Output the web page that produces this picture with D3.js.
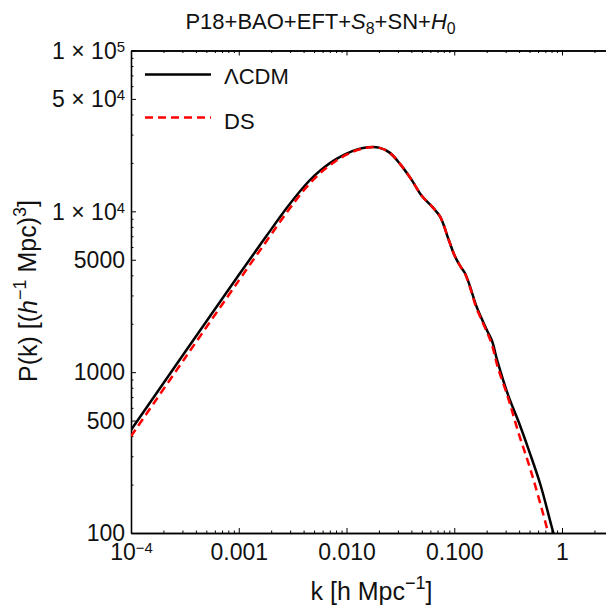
<!DOCTYPE html>
<html>
<head>
<meta charset="utf-8">
<script src="https://cdn.jsdelivr.net/npm/d3@7"></script>
<style>
  body { margin: 0; background: #fff; }
  svg text { font-family: "Liberation Sans", Arial, sans-serif; fill: #111; }
</style>
</head>
<body>
<div id="chart"></div>
<script>
// wavenumber grid, log10 k [h/Mpc]
const logK = [-4.0, -3.5, -3.0, -2.75, -2.55, -2.4, -2.3, -2.2, -2.1, -2.0, -1.9, -1.8, -1.7, -1.6, -1.5,
  -1.4, -1.3, -1.2, -1.13, -1.05, -1.0, -0.95, -0.9, -0.85, -0.8, -0.75, -0.7, -0.65, -0.6, -0.5, -0.4,
  -0.3, -0.2, -0.1, 0.0];
// log10 P(k)
const logP_LCDM = [2.640, 3.124, 3.604, 3.840, 4.025, 4.150, 4.220, 4.277, 4.323, 4.359, 4.385, 4.398,
  4.396, 4.365, 4.292, 4.200, 4.095, 4.025, 3.965, 3.82, 3.73, 3.665, 3.615, 3.525, 3.42, 3.34, 3.265,
  3.195, 3.07, 2.857, 2.687, 2.50, 2.30, 2.05, 1.80];
const logP_DS = [2.602, 3.087, 3.569, 3.808, 3.997, 4.128, 4.202, 4.263, 4.313, 4.352, 4.381, 4.397,
  4.396, 4.365, 4.292, 4.200, 4.095, 4.025, 3.965, 3.82, 3.73, 3.665, 3.612, 3.52, 3.41, 3.33, 3.255,
  3.17, 3.04, 2.84, 2.615, 2.41, 2.18, 1.93, 1.68];

const xMajor = [1e-4, 1e-3, 1e-2, 1e-1, 1];
const xLabels = ['10^−4', '0.001', '0.010', '0.100', '1'];
const yMajor = [100, 500, 1000, 5000, 1e4, 5e4, 1e5];
const yLabels = ['100', '500', '1000', '5000', '1 × 10^4', '5 × 10^4', '1 × 10^5'];

const series = [
  { name: 'ΛCDM', values: logP_LCDM, color: '#000', dash: null },
  { name: 'DS', values: logP_DS, color: '#ff0000', dash: '8,5' },
];

const width = 606, height = 608;
const margin = { left: 131, top: 50.5, bottom: 75 };
const perDecade = 107.75;
const kMax = 3;

const x = d3.scaleLog()
  .domain([1e-4, kMax])
  .range([margin.left, margin.left + perDecade * (4 + Math.log10(kMax))]);
const y = d3.scaleLog()
  .domain([100, 1e5])
  .range([height - margin.bottom, margin.top]);

const svg = d3.select('#chart').append('svg')
  .attr('width', width).attr('height', height);

svg.append('defs').append('clipPath').attr('id', 'plot')
  .append('rect')
  .attr('x', margin.left).attr('y', margin.top)
  .attr('width', width - margin.left).attr('height', y(100) - margin.top);

// minor ticks
const xMinor = [];
for (let d = -4; d <= 0; d++) {
  for (let m = 2; m <= 9; m++) {
    const v = m * Math.pow(10, d);
    if (v <= kMax) xMinor.push(v);
  }
}
const yMinor = [];
for (let d = 2; d <= 4; d++) {
  for (let m = 2; m <= 9; m++) {
    if (m !== 5) yMinor.push(m * Math.pow(10, d));
  }
}

function styleAxis(g) {
  g.selectAll('path.domain').attr('stroke', '#000').attr('stroke-width', 1.3);
  g.selectAll('.tick line').attr('stroke', '#000').attr('stroke-width', 1);
}

function supText(sel, label) {
  sel.text(null);
  const parts = label.split('^');
  sel.append('tspan').text(parts[0]);
  if (parts[1]) {
    sel.append('tspan').attr('dy', '-0.47em').attr('font-size', '0.65em').text(parts[1]);
  }
}

// bottom axis
svg.append('g')
  .attr('transform', `translate(0, ${y(100)})`)
  .call(d3.axisBottom(x).tickValues(xMinor).tickSizeInner(-2.5).tickSizeOuter(0).tickFormat(''))
  .call(styleAxis);
const xb = svg.append('g')
  .attr('transform', `translate(0, ${y(100)})`)
  .call(d3.axisBottom(x).tickValues(xMajor).tickSizeInner(-5).tickSizeOuter(0)
    .tickPadding(11).tickFormat((d, i) => xLabels[i]))
  .call(styleAxis);
xb.selectAll('.tick text')
  .attr('font-size', 23).attr('fill', '#111')
  .each(function (d, i) { supText(d3.select(this), xLabels[i]); });

// top axis
svg.append('g')
  .attr('transform', `translate(0, ${margin.top})`)
  .call(d3.axisTop(x).tickValues(xMinor).tickSizeInner(-2.5).tickSizeOuter(0).tickFormat(''))
  .call(styleAxis);
svg.append('g')
  .attr('transform', `translate(0, ${margin.top})`)
  .call(d3.axisTop(x).tickValues(xMajor).tickSizeInner(-5).tickSizeOuter(0).tickFormat(''))
  .call(styleAxis);

// left axis
svg.append('g')
  .attr('transform', `translate(${margin.left}, 0)`)
  .call(d3.axisLeft(y).tickValues(yMinor).tickSizeInner(-2.5).tickSizeOuter(0).tickFormat(''))
  .call(styleAxis);
const yl = svg.append('g')
  .attr('transform', `translate(${margin.left}, 0)`)
  .call(d3.axisLeft(y).tickValues(yMajor).tickSizeInner(-5).tickSizeOuter(0)
    .tickPadding(6).tickFormat((d, i) => yLabels[i]))
  .call(styleAxis);
yl.selectAll('.tick text')
  .attr('font-size', 23).attr('fill', '#111').attr('dy', '0.34em')
  .each(function (d, i) { supText(d3.select(this), yLabels[i]); });

// curves
const line = d3.line()
  .curve(d3.curveCatmullRom.alpha(0.5))
  .x((d, i) => x(Math.pow(10, logK[i])))
  .y(d => y(Math.pow(10, d)));

svg.append('g').attr('clip-path', 'url(#plot)')
  .selectAll('path')
  .data(series)
  .join('path')
  .attr('fill', 'none')
  .attr('stroke', d => d.color)
  .attr('stroke-width', 2.5)
  .attr('stroke-dasharray', d => d.dash)
  .attr('d', d => line(d.values));

// legend
const legend = svg.append('g');
series.forEach((s, i) => {
  const ly = [74.5, 117.5][i];
  legend.append('line')
    .attr('x1', 145).attr('x2', 211).attr('y1', ly).attr('y2', ly)
    .attr('stroke', s.color).attr('stroke-width', 2.5)
    .attr('stroke-dasharray', s.dash);
  legend.append('text')
    .attr('x', 224).attr('y', [84, 129][i])
    .attr('font-size', 22)
    .text(s.name);
});

// title
const title = svg.append('text')
  .attr('x', 320.5).attr('y', 29)
  .attr('text-anchor', 'middle')
  .attr('font-size', 22);
title.append('tspan').text('P18+BAO+EFT+');
title.append('tspan').attr('font-style', 'italic').text('S');
title.append('tspan').attr('font-size', '0.72em').attr('dy', '0.3em').text('8');
title.append('tspan').attr('dy', '-0.22em').text('+SN+');
title.append('tspan').attr('font-style', 'italic').text('H');
title.append('tspan').attr('font-size', '0.72em').attr('dy', '0.3em').text('0');

// axis titles
const xt = svg.append('text')
  .attr('x', 371.5).attr('y', 600)
  .attr('text-anchor', 'middle')
  .attr('font-size', 25);
xt.append('tspan').text('k [h Mpc');
xt.append('tspan').attr('font-size', '0.72em').attr('dy', '-0.6em').text('−1');
xt.append('tspan').attr('dy', '0.43em').text(']');

const yt = svg.append('text')
  .attr('transform', 'translate(36.5, 291) rotate(-90)')
  .attr('text-anchor', 'middle')
  .attr('font-size', 25);
yt.append('tspan').text('P(k) [(');
yt.append('tspan').attr('font-style', 'italic').text('h');
yt.append('tspan').attr('font-size', '0.72em').attr('dy', '-0.6em').text('−1');
yt.append('tspan').attr('dy', '0.43em').text(' Mpc)');
yt.append('tspan').attr('font-size', '0.72em').attr('dy', '-0.6em').text('3');
yt.append('tspan').attr('dy', '0.43em').text(']');
</script>
</body>
</html>
